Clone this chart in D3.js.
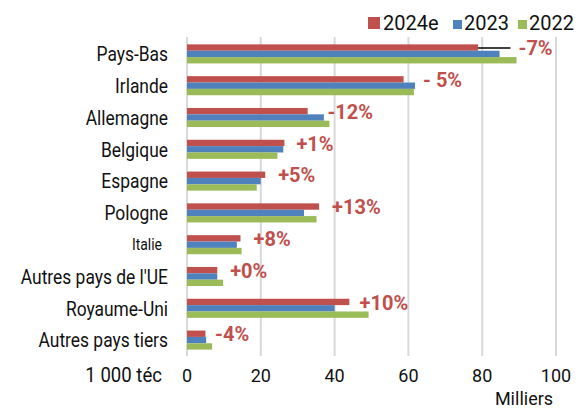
<!DOCTYPE html>
<html>
<head>
<meta charset="utf-8">
<script src="https://cdn.jsdelivr.net/npm/d3@7"></script>
<style>
  html, body { margin: 0; padding: 0; background: #fff; }
  svg { display: block; }
</style>
</head>
<body>
<svg id="chart" width="587" height="409"></svg>
<script>
// ---- Data ----
const categories = ["Pays-Bas", "Irlande", "Allemagne", "Belgique", "Espagne", "Pologne", "Italie", "Autres pays de l'UE", "Royaume-Uni", "Autres pays tiers"];
const series = ["2024e", "2023", "2022"];
const values2024e = [78.9, 58.7, 32.7, 26.4, 21.2, 35.8, 14.5, 8.2, 44.0, 5.0];
const values2023  = [84.7, 61.8, 37.1, 26.1, 20.0, 31.7, 13.5, 8.2, 40.0, 5.2];
const values2022  = [89.3, 61.5, 38.6, 24.5, 18.9, 35.1, 14.8, 9.8, 49.2, 6.8];
const changeLabels = ["-7%", "- 5%", "-12%", "+1%", "+5%", "+13%", "+8%", "+0%", "+10%", "-4%"];
const xTicks = [0, 20, 40, 60, 80, 100];
const unitLabel = "1 000 téc";
const scaleLabel = "Milliers";

// ---- Layout / style ----
const colors = { "2024e": "#c0504d", "2023": "#4f81bd", "2022": "#9bbb59" };
const FONT = "Roboto, 'Liberation Sans', sans-serif";
const labelNudge = [-8, -2, -12, 2, 3, 3, 2, -3, -19, -7];
const CONDENSE = 0.87;

const svg = d3.select("#chart");
const x = d3.scaleLinear().domain([0, 100]).range([187, 556]);
const y = d3.scaleBand().domain(categories).range([38, 356]).paddingInner(0.4).paddingOuter(0.2);
const ySub = d3.scaleBand().domain(series).range([0, y.bandwidth()]);

const table = categories.map((c, i) => ({
  cat: c,
  vals: { "2024e": values2024e[i], "2023": values2023[i], "2022": values2022[i] },
  label: changeLabels[i],
  i
}));

// gridlines
svg.append("g").selectAll("line").data(xTicks).join("line")
  .attr("x1", d => x(d)).attr("x2", d => x(d))
  .attr("y1", 37).attr("y2", 356)
  .attr("stroke", "#d9d9d9").attr("stroke-width", 2);

// bars
const groups = svg.append("g").selectAll("g").data(table).join("g")
  .attr("transform", d => `translate(0,${y(d.cat)})`);
groups.selectAll("rect").data(d => series.map(s => ({ s, v: d.vals[s] }))).join("rect")
  .attr("x", x(0))
  .attr("y", d => ySub(d.s))
  .attr("width", d => x(d.v) - x(0))
  .attr("height", ySub.bandwidth())
  .attr("fill", d => colors[d.s]);

// category labels (condensed look)
svg.append("g").selectAll("text").data(table).join("text")
  .attr("transform", d => `translate(${d.cat === "Italie" ? 162 : 168},${y(d.cat) + y.bandwidth() / 2}) scale(${CONDENSE},1)`)
  .attr("dy", "0.36em")
  .attr("text-anchor", "end")
  .attr("font-family", FONT)
  .attr("font-size", d => d.cat === "Italie" ? 16 : 20)
  .attr("fill", "#111")
  .text(d => d.cat);

// change labels
const labelX = d => x(d3.max(series, s => d.vals[s])) + 10 + labelNudge[d.i];
svg.append("g").selectAll("text").data(table).join("text")
  .attr("x", labelX)
  .attr("y", d => y(d.cat) + y.bandwidth() / 2 - 6)
  .attr("dy", "0.36em")
  .attr("font-family", FONT)
  .attr("font-weight", "bold")
  .attr("font-size", 20)
  .attr("fill", "#c0504d")
  .text(d => d.label);

// leader line for first category
const first = table[0];
svg.append("line")
  .attr("x1", x(first.vals["2024e"])).attr("x2", labelX(first) - 8)
  .attr("y1", y(first.cat) + ySub("2024e") + ySub.bandwidth() / 2 + 0.5)
  .attr("y2", y(first.cat) + ySub("2024e") + ySub.bandwidth() / 2 + 0.5)
  .attr("stroke", "#000").attr("stroke-width", 1.5);

// x axis tick labels
svg.append("g").selectAll("text").data(xTicks).join("text")
  .attr("x", d => x(d)).attr("y", 382)
  .attr("text-anchor", "middle")
  .attr("font-family", FONT).attr("font-size", 18).attr("fill", "#111")
  .text(d => d);

svg.append("text").attr("transform", `translate(162,382) scale(0.93,1)`).attr("text-anchor", "end")
  .attr("font-family", FONT).attr("font-size", 20).attr("fill", "#111").text(unitLabel);
svg.append("text").attr("x", 524).attr("y", 405).attr("text-anchor", "middle")
  .attr("font-family", FONT).attr("font-size", 18).attr("fill", "#111").text(scaleLabel);

// legend
const legendItems = [
  { s: "2024e", sx: 368, size: 12, tx: 383 },
  { s: "2023", sx: 453, size: 9, tx: 464 },
  { s: "2022", sx: 518, size: 9, tx: 529 }
];
const lg = svg.append("g");
lg.selectAll("rect").data(legendItems).join("rect")
  .attr("x", d => d.sx).attr("y", d => 29 - d.size).attr("width", d => d.size).attr("height", d => d.size)
  .attr("fill", d => colors[d.s]);
lg.selectAll("text").data(legendItems).join("text")
  .attr("x", d => d.tx).attr("y", 29.5)
  .attr("font-family", FONT).attr("font-size", 20).attr("fill", "#111")
  .text(d => d.s);
</script>
</body>
</html>
